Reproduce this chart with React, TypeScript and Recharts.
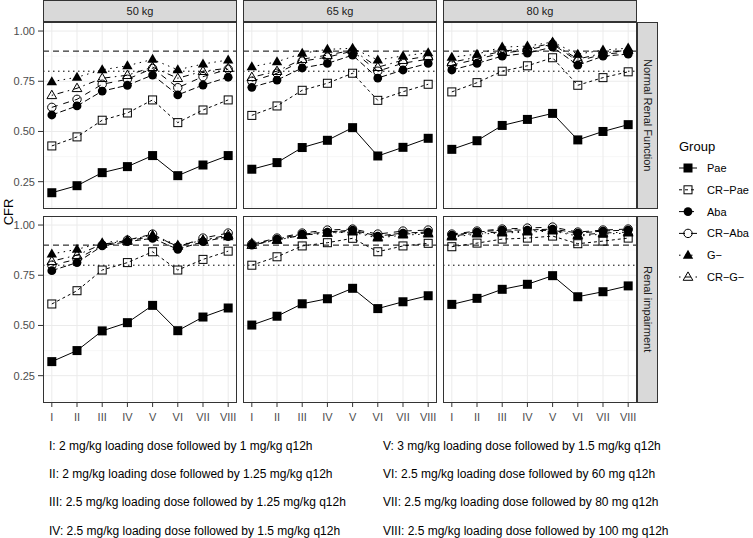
import { LineChart, Line, XAxis, YAxis, CartesianGrid, ReferenceLine } from "recharts";

// dosing regimens on the x axis
const DOSES = ["I", "II", "III", "IV", "V", "VI", "VII", "VIII"];
const WEIGHTS = ["50 kg", "65 kg", "80 kg"];
const RENAL = ["Normal Renal Function", "Renal impairment"];

// CFR values, one row per weight (50, 65, 80 kg)
const PAE_NORMAL = [
  [0.195, 0.23, 0.295, 0.325, 0.38, 0.28, 0.333, 0.38],
  [0.312, 0.345, 0.42, 0.456, 0.519, 0.378, 0.421, 0.466],
  [0.411, 0.454, 0.53, 0.56, 0.59, 0.458, 0.5, 0.534],
];
const CRPAE_NORMAL = [
  [0.428, 0.473, 0.556, 0.592, 0.657, 0.544, 0.607, 0.657],
  [0.58, 0.627, 0.705, 0.74, 0.79, 0.655, 0.698, 0.735],
  [0.697, 0.743, 0.8, 0.827, 0.867, 0.73, 0.768, 0.797],
];
const ABA_NORMAL = [
  [0.582, 0.627, 0.701, 0.73, 0.781, 0.682, 0.731, 0.77],
  [0.72, 0.756, 0.816, 0.839, 0.88, 0.766, 0.806, 0.839],
  [0.806, 0.839, 0.875, 0.89, 0.92, 0.83, 0.875, 0.885],
];
const CRABA_NORMAL = [
  [0.62, 0.66, 0.735, 0.76, 0.814, 0.718, 0.773, 0.81],
  [0.75, 0.79, 0.85, 0.87, 0.9, 0.8, 0.84, 0.86],
  [0.83, 0.86, 0.89, 0.905, 0.935, 0.85, 0.885, 0.895],
];
const G_NORMAL = [
  [0.748, 0.77, 0.807, 0.827, 0.859, 0.807, 0.836, 0.856],
  [0.822, 0.847, 0.889, 0.909, 0.914, 0.856, 0.876, 0.892],
  [0.87, 0.885, 0.92, 0.925, 0.945, 0.885, 0.905, 0.915],
];
const CRG_NORMAL = [
  [0.68, 0.715, 0.765, 0.78, 0.82, 0.765, 0.8, 0.815],
  [0.77, 0.8, 0.86, 0.88, 0.905, 0.82, 0.855, 0.875],
  [0.845, 0.87, 0.9, 0.912, 0.94, 0.86, 0.89, 0.905],
];

const PAE_IMPAIRED = [
  [0.32, 0.375, 0.473, 0.514, 0.6, 0.474, 0.542, 0.587],
  [0.502, 0.546, 0.608, 0.633, 0.685, 0.584, 0.618, 0.648],
  [0.605, 0.635, 0.68, 0.705, 0.748, 0.643, 0.668, 0.697],
];
const CRPAE_IMPAIRED = [
  [0.607, 0.673, 0.776, 0.813, 0.867, 0.776, 0.829, 0.87],
  [0.8, 0.842, 0.896, 0.912, 0.934, 0.867, 0.896, 0.909],
  [0.892, 0.91, 0.93, 0.935, 0.945, 0.907, 0.92, 0.935],
];
const ABA_IMPAIRED = [
  [0.773, 0.813, 0.896, 0.917, 0.934, 0.879, 0.917, 0.942],
  [0.9, 0.93, 0.955, 0.965, 0.975, 0.945, 0.96, 0.965],
  [0.95, 0.965, 0.975, 0.975, 0.98, 0.96, 0.97, 0.975],
];
const CRABA_IMPAIRED = [
  [0.8, 0.83, 0.9, 0.925, 0.955, 0.89, 0.935, 0.96],
  [0.905, 0.935, 0.96, 0.975, 0.98, 0.955, 0.97, 0.975],
  [0.955, 0.97, 0.98, 0.985, 0.99, 0.965, 0.975, 0.98],
];
const G_IMPAIRED = [
  [0.856, 0.879, 0.912, 0.925, 0.95, 0.9, 0.925, 0.942],
  [0.91, 0.925, 0.95, 0.96, 0.965, 0.935, 0.95, 0.955],
  [0.94, 0.955, 0.96, 0.965, 0.97, 0.945, 0.955, 0.96],
];
const CRG_IMPAIRED = [
  [0.82, 0.85, 0.905, 0.92, 0.945, 0.895, 0.925, 0.95],
  [0.9, 0.925, 0.95, 0.96, 0.97, 0.94, 0.955, 0.96],
  [0.945, 0.96, 0.965, 0.97, 0.975, 0.95, 0.96, 0.965],
];

const FOOTNOTES_LEFT = [
  "I: 2 mg/kg loading dose followed by 1 mg/kg q12h",
  "II: 2 mg/kg loading dose followed by 1.25 mg/kg q12h",
  "III: 2.5 mg/kg loading dose followed by 1.25 mg/kg q12h",
  "IV: 2.5 mg/kg loading dose followed by 1.5 mg/kg q12h",
];
const FOOTNOTES_RIGHT = [
  "V: 3 mg/kg loading dose followed by 1.5 mg/kg q12h",
  "VI: 2.5 mg/kg loading dose followed by 60 mg q12h",
  "VII: 2.5 mg/kg loading dose followed by 80 mg q12h",
  "VIII: 2.5 mg/kg loading dose followed by 100 mg q12h",
];

const SERIES = [
  { key: "pae", label: "Pae", shape: "sqF", dash: undefined, values: [PAE_NORMAL, PAE_IMPAIRED] },
  { key: "crpae", label: "CR\u2212Pae", shape: "sqO", dash: "3 3", values: [CRPAE_NORMAL, CRPAE_IMPAIRED] },
  { key: "aba", label: "Aba", shape: "ciF", dash: "6 3", values: [ABA_NORMAL, ABA_IMPAIRED] },
  { key: "craba", label: "CR\u2212Aba", shape: "ciO", dash: "6 6", values: [CRABA_NORMAL, CRABA_IMPAIRED] },
  { key: "g", label: "G\u2212", shape: "trF", dash: "1.5 4.5", values: [G_NORMAL, G_IMPAIRED] },
  { key: "crg", label: "CR\u2212G\u2212", shape: "trO", dash: "1.5 4.5 6 4.5", values: [CRG_NORMAL, CRG_IMPAIRED] },
];

// layout (px)
const PANEL_X = [43, 243, 443];
const PANEL_Y = [22, 216];
const PANEL_W = 194;
const PANEL_H = 187;
const Y_AXIS_W = 43;
const X_AXIS_H = 24;

const X_DOMAIN = [0.65, 8.35];
const X_TICKS = [1, 2, 3, 4, 5, 6, 7, 8];
const Y_DOMAIN = [0.114, 1.045];
const Y_TICKS = [0.25, 0.5, 0.75, 1.0];
const Y_MINOR = [0.125, 0.375, 0.625, 0.875];

const FONT = '"Liberation Sans", Arial, Helvetica, sans-serif';

function tri(cx: number, cy: number, r: number) {
  const w = r * 0.866;
  return `${cx},${cy - r} ${cx - w},${cy + r / 2} ${cx + w},${cy + r / 2}`;
}

function Marker({ shape, cx, cy }: { shape: string; cx: number; cy: number }) {
  switch (shape) {
    case "sqF":
      return <rect x={cx - 4.5} y={cy - 4.5} width={9} height={9} fill="#000" />;
    case "sqO":
      return <rect x={cx - 4} y={cy - 4} width={8} height={8} fill="none" stroke="#000" strokeWidth={1} />;
    case "ciF":
      return <circle cx={cx} cy={cy} r={4.4} fill="#000" />;
    case "ciO":
      return <circle cx={cx} cy={cy} r={4.2} fill="none" stroke="#000" strokeWidth={1} />;
    case "trF":
      return <polygon points={tri(cx, cy + 0.5, 6)} fill="#000" />;
    default:
      return <polygon points={tri(cx, cy + 0.5, 5.6)} fill="none" stroke="#000" strokeWidth={1} />;
  }
}

function buildRows(row: number, col: number) {
  return DOSES.map((_, i) => {
    const r: Record<string, number> = { x: i + 1 };
    SERIES.forEach((s) => {
      r[s.key] = s.values[row][col][i];
    });
    return r;
  });
}

function Panel({ row, col }: { row: number; col: number }) {
  const hasY = col === 0;
  const hasX = row === 1;
  const w = PANEL_W + (hasY ? Y_AXIS_W : 0);
  const h = PANEL_H + (hasX ? X_AXIS_H : 0);
  const data = buildRows(row, col);
  return (
    <>
      <div style={{ position: "absolute", left: PANEL_X[col] - (hasY ? Y_AXIS_W : 0), top: PANEL_Y[row] }}>
        <LineChart width={w} height={h} data={data} margin={{ top: 0, right: 0, bottom: 0, left: 0 }}>
          <CartesianGrid stroke="#F3F3F3" strokeWidth={0.6} horizontalValues={Y_MINOR} vertical={false} />
          <CartesianGrid stroke="#EBEBEB" strokeWidth={1} horizontalValues={Y_TICKS} verticalValues={X_TICKS} />
          <XAxis
            dataKey="x"
            type="number"
            domain={X_DOMAIN}
            ticks={X_TICKS}
            allowDataOverflow
            hide={!hasX}
            height={X_AXIS_H}
            tickFormatter={(v: number) => DOSES[v - 1]}
            tick={{ fontSize: 11, fill: "#4D4D4D" }}
            tickLine={{ stroke: "#333" }}
            axisLine={false}
            tickSize={4}
            tickMargin={6}
            interval={0}
          />
          <YAxis
            type="number"
            domain={Y_DOMAIN}
            ticks={Y_TICKS}
            allowDataOverflow
            hide={!hasY}
            width={Y_AXIS_W}
            tickFormatter={(v: number) => v.toFixed(2)}
            tick={{ fontSize: 11, fill: "#4D4D4D" }}
            tickLine={{ stroke: "#333" }}
            axisLine={false}
            tickSize={5}
            tickMargin={3}
            interval={0}
          />
          <ReferenceLine y={0.9} stroke="#000" strokeWidth={1} strokeDasharray="6 4" />
          <ReferenceLine y={0.8} stroke="#000" strokeWidth={1} strokeDasharray="1.5 3.5" />
          {SERIES.map((s) => (
            <Line
              key={`l-${s.key}`}
              dataKey={s.key}
              type="linear"
              stroke="#000"
              strokeWidth={1}
              strokeDasharray={s.dash}
              dot={false}
              activeDot={false}
              isAnimationActive={false}
            />
          ))}
          {SERIES.map((s) => (
            <Line
              key={`p-${s.key}`}
              dataKey={s.key}
              type="linear"
              stroke="none"
              activeDot={false}
              isAnimationActive={false}
              dot={(p: any) =>
                p.cx == null || p.cy == null ? (
                  <g key={`${s.key}-${p.index}`} />
                ) : (
                  <g key={`${s.key}-${p.index}`}>
                    <Marker shape={s.shape} cx={p.cx} cy={p.cy} />
                  </g>
                )
              }
            />
          ))}
        </LineChart>
      </div>
      <div
        style={{
          position: "absolute",
          left: PANEL_X[col],
          top: PANEL_Y[row],
          width: PANEL_W,
          height: PANEL_H,
          border: "1.2px solid #333",
          boxSizing: "border-box",
          pointerEvents: "none",
        }}
      />
    </>
  );
}

function Legend() {
  return (
    <svg style={{ position: "absolute", left: 670, top: 130 }} width={83} height={160}>
      <text x={9} y={16} fontSize={13} dominantBaseline="central" fill="#000">
        Group
      </text>
      {SERIES.map((s, i) => {
        const y = 38 + i * 21.8;
        return (
          <g key={s.key}>
            <line x1={9} x2={27} y1={y} y2={y} stroke="#000" strokeWidth={1} strokeDasharray={s.dash} />
            <Marker shape={s.shape} cx={18} cy={y} />
            <text x={37} y={y} fontSize={11} dominantBaseline="central" fill="#000">
              {s.label}
            </text>
          </g>
        );
      })}
    </svg>
  );
}

export default function App() {
  return (
    <div
      style={{
        position: "absolute",
        left: 0,
        top: 0,
        width: 753,
        height: 538,
        background: "#fff",
        fontFamily: FONT,
        overflow: "hidden",
      }}
    >
      {WEIGHTS.map((wt, c) => (
        <div
          key={wt}
          style={{
            position: "absolute",
            left: PANEL_X[c],
            top: 0,
            width: PANEL_W,
            height: 22,
            background: "#D9D9D9",
            border: "1.2px solid #333",
            boxSizing: "border-box",
            display: "flex",
            alignItems: "center",
            justifyContent: "center",
            fontSize: 11,
            color: "#1A1A1A",
          }}
        >
          {wt}
        </div>
      ))}
      {RENAL.map((rn, r) => (
        <div
          key={rn}
          style={{
            position: "absolute",
            left: PANEL_X[2] + PANEL_W,
            top: PANEL_Y[r],
            width: 21,
            height: PANEL_H,
            background: "#D9D9D9",
            border: "1.2px solid #333",
            boxSizing: "border-box",
            display: "flex",
            alignItems: "center",
            justifyContent: "center",
            writingMode: "vertical-rl",
            fontSize: 11,
            color: "#1A1A1A",
          }}
        >
          {rn}
        </div>
      ))}
      {[0, 1].map((r) => [0, 1, 2].map((c) => <Panel key={`${r}-${c}`} row={r} col={c} />))}
      <div
        style={{
          position: "absolute",
          left: 8,
          top: 212,
          transform: "translate(-50%, -50%) rotate(-90deg)",
          fontSize: 13,
          color: "#000",
          whiteSpace: "nowrap",
        }}
      >
        CFR
      </div>
      <Legend />
      {FOOTNOTES_LEFT.map((t, i) => (
        <div
          key={t}
          style={{ position: "absolute", left: 49, top: [446, 474, 502, 531][i] - 7, fontSize: 12, lineHeight: "14px", whiteSpace: "nowrap", color: "#000" }}
        >
          {t}
        </div>
      ))}
      {FOOTNOTES_RIGHT.map((t, i) => (
        <div
          key={t}
          style={{ position: "absolute", left: 383, top: [446, 474, 502, 531][i] - 7, fontSize: 12, lineHeight: "14px", whiteSpace: "nowrap", color: "#000" }}
        >
          {t}
        </div>
      ))}
    </div>
  );
}
